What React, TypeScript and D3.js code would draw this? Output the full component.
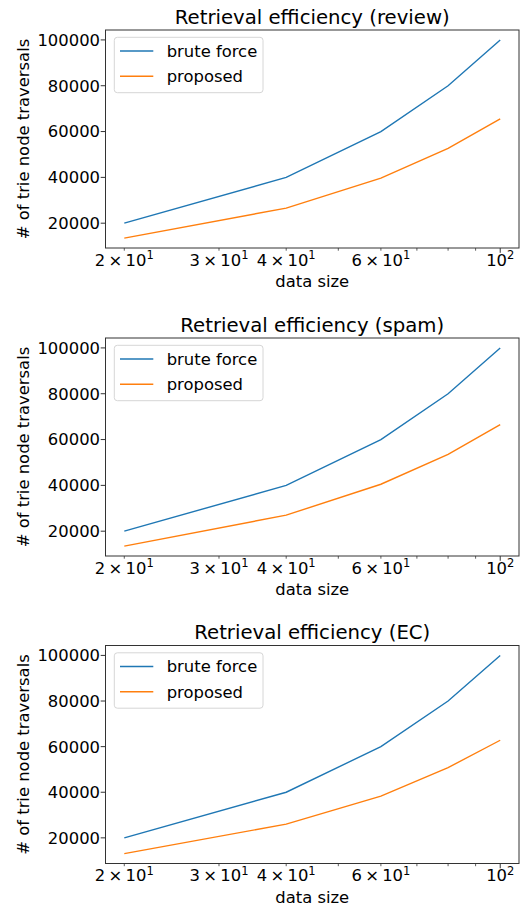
import React from "react";
import * as d3 from "d3";

const dataSizes = [20, 40, 60, 80, 100];
const bruteReview = [20000, 40000, 60000, 80000, 100000];
const proposedReview = [13500, 26600, 39700, 52700, 65500];
const bruteSpam = [20000, 40000, 60000, 80000, 100000];
const proposedSpam = [13500, 27000, 40500, 53500, 66500];
const bruteEC = [20000, 40000, 60000, 80000, 100000];
const proposedEC = [13100, 26000, 38300, 50800, 62800];
const titles = ["Retrieval efficiency (review)", "Retrieval efficiency (spam)", "Retrieval efficiency (EC)"];
const seriesNames = ["brute force", "proposed"];
const yTicks = [20000, 40000, 60000, 80000, 100000];
const xMinorTicks = [20, 30, 40, 50, 60, 70, 80, 90];
const xMajorTicks = [100];
const xLabeled: [number, string, string][] = [
  [20, "2\u2009\u00d7\u200910", "1"],
  [30, "3\u2009\u00d7\u200910", "1"],
  [40, "4\u2009\u00d7\u200910", "1"],
  [60, "6\u2009\u00d7\u200910", "1"],
  [100, "10", "2"],
];

const COLORS = ["#1f77b4", "#ff7f0e"];
const FONT = "DejaVu Sans, Liberation Sans, sans-serif";
const TICK_FS = 16.4;
const TITLE_FS = 19.7;

const panels = [
  { title: titles[0], brute: bruteReview, prop: proposedReview, top: 30 },
  { title: titles[1], brute: bruteSpam, prop: proposedSpam, top: 338 },
  { title: titles[2], brute: bruteEC, prop: proposedEC, top: 645.5 },
];

const LEFT = 105.5;
const RIGHT = 519;
const HEIGHT = 218;

function Panel({ p }: { p: typeof panels[number] }) {
  const top = p.top;
  const bottom = top + HEIGHT;
  const lx0 = Math.log10(20), lx1 = Math.log10(100);
  const m = (lx1 - lx0) * 0.05;
  const x = d3.scaleLog().domain([Math.pow(10, lx0 - m), Math.pow(10, lx1 + m)]).range([LEFT, RIGHT]);
  const all = [...p.brute, ...p.prop];
  const ymin = d3.min(all)!, ymax = d3.max(all)!;
  const ym = (ymax - ymin) * 0.05;
  const y = d3.scaleLinear().domain([ymin - ym, ymax + ym]).range([bottom, top]);
  const line = d3.line<number>().x((_, i) => x(dataSizes[i])).y((d) => y(d));
  const midX = (LEFT + RIGHT) / 2;
  const midY = (top + bottom) / 2;
  return (
    <g>
      <text x={midX} y={top - 6.5} textAnchor="middle" fontSize={TITLE_FS} fontFamily={FONT} fill="#000">{p.title}</text>
      <path d={line(p.brute)!} fill="none" stroke={COLORS[0]} strokeWidth={1.4} />
      <path d={line(p.prop)!} fill="none" stroke={COLORS[1]} strokeWidth={1.4} />
      <rect x={LEFT} y={top} width={RIGHT - LEFT} height={HEIGHT} fill="none" stroke="#333" strokeWidth={1} />
      {yTicks.map((t) => (
        <g key={t}>
          <line x1={LEFT - 4.8} x2={LEFT} y1={y(t)} y2={y(t)} stroke="#333" strokeWidth={1} />
          <text x={LEFT - 5.5} y={y(t)} dy="0.36em" textAnchor="end" fontSize={TICK_FS} fontFamily={FONT} fill="#000">{t}</text>
        </g>
      ))}
      {xMinorTicks.map((t) => (
        <line key={"mi" + t} x1={x(t)} x2={x(t)} y1={bottom} y2={bottom + 2.7} stroke="#333" strokeWidth={0.8} />
      ))}
      {xMajorTicks.map((t) => (
        <line key={"ma" + t} x1={x(t)} x2={x(t)} y1={bottom} y2={bottom + 4.8} stroke="#333" strokeWidth={1} />
      ))}
      {xLabeled.map(([v, base, sup]) => (
        <text key={"xl" + v} x={x(v)} y={bottom + 17.7} textAnchor="middle" fontSize={TICK_FS} fontFamily={FONT} fill="#000">
          {base}
          <tspan fontSize={TICK_FS * 0.7} dy={-6.5}>{sup}</tspan>
        </text>
      ))}
      <text x={midX} y={bottom + 39} textAnchor="middle" fontSize={TICK_FS} fontFamily={FONT} fill="#000">data size</text>
      <text transform={`translate(29,${midY}) rotate(-90)`} textAnchor="middle" fontSize={TICK_FS} fontFamily={FONT} fill="#000"># of trie node traversals</text>
      <rect x={114.3} y={top + 7.3} width={148.7} height={55.4} rx={3} fill="#fff" fillOpacity={0.8} stroke="#d6d6d6" strokeWidth={1} />
      {seriesNames.map((n, i) => (
        <g key={n}>
          <line x1={120} x2={153.3} y1={top + 21 + i * 25.3} y2={top + 21 + i * 25.3} stroke={COLORS[i]} strokeWidth={1.4} />
          <text x={166.7} y={top + 21 + i * 25.3} dy="0.36em" fontSize={TICK_FS} fontFamily={FONT} fill="#000">{n}</text>
        </g>
      ))}
    </g>
  );
}

export default function App() {
  return (
    <svg width={529} height={909} style={{ position: "absolute", left: 0, top: 0, background: "#fff" }}>
      <rect x={0} y={0} width={529} height={909} fill="#fff" />
      {panels.map((p) => (
        <Panel key={p.title} p={p} />
      ))}
    </svg>
  );
}
